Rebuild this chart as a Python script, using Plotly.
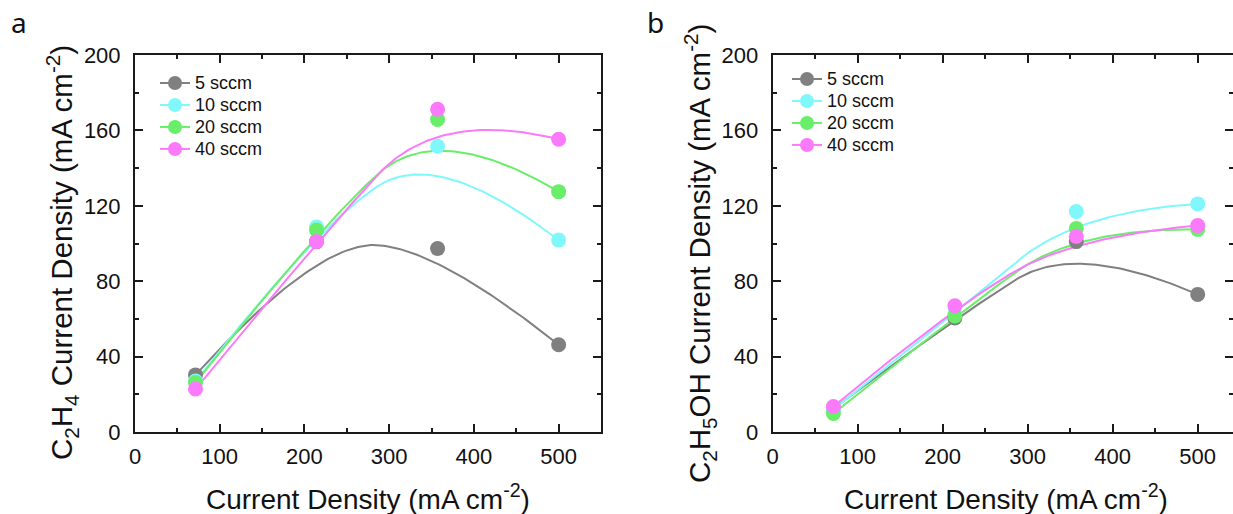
import numpy as np
import plotly.graph_objects as go

# Applied current density (mA cm-2)
current = [71.43, 214.29, 357.14, 500.0]

flows = ["5 sccm", "10 sccm", "20 sccm", "40 sccm"]
colors = ["#808080", "#80f8fb", "#68ee68", "#fb7afb"]

# Panel a: C2H4 partial current density (mA cm-2)
c2h4_5 = [30.3, 101.0, 97.3, 46.3]
c2h4_10 = [27.0, 108.8, 151.6, 101.8]
c2h4_20 = [26.2, 107.2, 165.8, 127.5]
c2h4_40 = [22.8, 101.0, 171.2, 155.3]

# Panel b: C2H5OH partial current density (mA cm-2)
etoh_5 = [12.5, 60.5, 101.0, 73.0]
etoh_10 = [12.0, 63.0, 117.0, 121.0]
etoh_20 = [9.8, 61.5, 108.0, 107.5]
etoh_40 = [13.5, 67.0, 103.8, 109.5]

panel_a = [c2h4_5, c2h4_10, c2h4_20, c2h4_40]
panel_b = [etoh_5, etoh_10, etoh_20, etoh_40]


def bspline2(xp, yp, n=60):
    """Clamped quadratic B-spline using the data points as control points."""
    P = np.column_stack([xp, yp]).astype(float)
    m = len(P)
    segs = []
    for i in range(1, m - 1):
        a = P[0] if i == 1 else (P[i - 1] + P[i]) / 2
        c = P[-1] if i == m - 2 else (P[i] + P[i + 1]) / 2
        segs.append((a, P[i], c))
    out = []
    t = np.linspace(0, 1, n)[:, None]
    for a, b, c in segs:
        out.append((1 - t) ** 2 * a + 2 * t * (1 - t) * b + t ** 2 * c)
    pts = np.vstack(out)
    return pts[:, 0], pts[:, 1]


fig = go.Figure()

for panel, (xa, ya, leg) in zip([panel_a, panel_b], [("x", "y", "legend"), ("x2", "y2", "legend2")]):
    for name, col, vals in zip(flows, colors, panel):
        sx, sy = bspline2(current, vals)
        fig.add_trace(go.Scatter(x=sx, y=sy, mode="lines", line=dict(color=col, width=2),
                                 xaxis=xa, yaxis=ya, showlegend=False, hoverinfo="skip"))
    for name, col, vals in zip(flows, colors, panel):
        fig.add_trace(go.Scatter(x=current, y=vals, mode="markers",
                                 marker=dict(color=col, size=15, line=dict(width=0)),
                                 xaxis=xa, yaxis=ya, showlegend=False, name=name))
    for name, col in zip(flows, colors):
        # legend rows are spaced by the legend font; the label itself is drawn larger
        fig.add_trace(go.Scatter(x=[None], y=[None], mode="lines+markers",
                                 name=f'<span style="font-size:18px">{name}</span>',
                                 line=dict(color=col, width=2),
                                 marker=dict(color=col, size=14),
                                 xaxis=xa, yaxis=ya, legend=leg))

W, H = 1233, 514
FONT = "Liberation Sans, Arial, sans-serif"

axis_common = dict(
    showline=True, linecolor="#1a1a1a", linewidth=2, mirror="ticks",
    ticks="inside", ticklen=8, tickwidth=2, tickcolor="#1a1a1a",
    showgrid=False, zeroline=False, automargin=False,
    tickfont=dict(family=FONT, size=22, color="#111"),
)
minor_x = dict(dtick=50, ticks="inside", ticklen=4, tickwidth=2, tickcolor="#1a1a1a")
minor_y = dict(dtick=20, ticks="inside", ticklen=4, tickwidth=2, tickcolor="#1a1a1a")

xdom_a = [135 / W, 601 / W]
xdom_b = [772.7 / W, 1.0]
ydom = [(H - 432) / H, (H - 55) / H]

xtitle_text = "Current Density (mA cm<sup>-2</sup>)"
title_font = dict(family=FONT, size=28, color="#111")
ytitle_font = dict(family=FONT, size=29.5, color="#111")


def px(xp, yp):
    return dict(x=xp / W, y=1 - yp / H, xref="paper", yref="paper", showarrow=False,
                xanchor="center", yanchor="middle")


legend_common = dict(xanchor="left", yanchor="top", bgcolor="rgba(0,0,0,0)",
                     font=dict(family=FONT, size=14.6, color="#111"), tracegroupgap=0)

fig.update_layout(
    width=W, height=H,
    margin=dict(l=0, r=0, t=0, b=0, autoexpand=False),
    plot_bgcolor="white", paper_bgcolor="white",
    xaxis=dict(axis_common, domain=xdom_a, anchor="y", range=[0, 550], dtick=100, tick0=0,
               minor=minor_x, ticklabelstandoff=4),
    yaxis=dict(axis_common, domain=ydom, anchor="x", range=[0, 200], dtick=40, tick0=0,
               minor=minor_y, ticklabelstandoff=8),
    xaxis2=dict(axis_common, domain=xdom_b, anchor="y2", range=[0, 541.5], dtick=100, tick0=0,
                minor=minor_x, ticklabelstandoff=4),
    yaxis2=dict(axis_common, domain=ydom, anchor="x2", range=[0, 200], dtick=40, tick0=0,
                minor=minor_y, ticklabelstandoff=8),
    legend=dict(legend_common, x=155 / W, y=1 - 67 / H),
    legend2=dict(legend_common, x=787 / W, y=1 - 63 / H),
    annotations=[
        dict(px(368, 497), text=xtitle_text, font=title_font),
        dict(px(1006, 497), text=xtitle_text, font=title_font),
        dict(px(62, 253), textangle=-90, font=ytitle_font,
             text="C<sub>2</sub>H<sub>4</sub> Current Density (mA cm<sup>-2</sup>)"),
        dict(px(700, 254), textangle=-90, font=ytitle_font,
             text="C<sub>2</sub>H<sub>5</sub>OH Current Density (mA cm<sup>-2</sup>)"),
        dict(text="a", x=9 / W, y=1 - 22 / H, xref="paper", yref="paper", showarrow=False,
             xanchor="left", yanchor="middle", font=dict(family="Noto Sans, sans-serif", size=28, color="#111")),
        dict(text="b", x=645 / W, y=1 - 22 / H, xref="paper", yref="paper", showarrow=False,
             xanchor="left", yanchor="middle", font=dict(family="Noto Sans, sans-serif", size=28, color="#111")),
    ],
)

fig.write_html("out.html")
